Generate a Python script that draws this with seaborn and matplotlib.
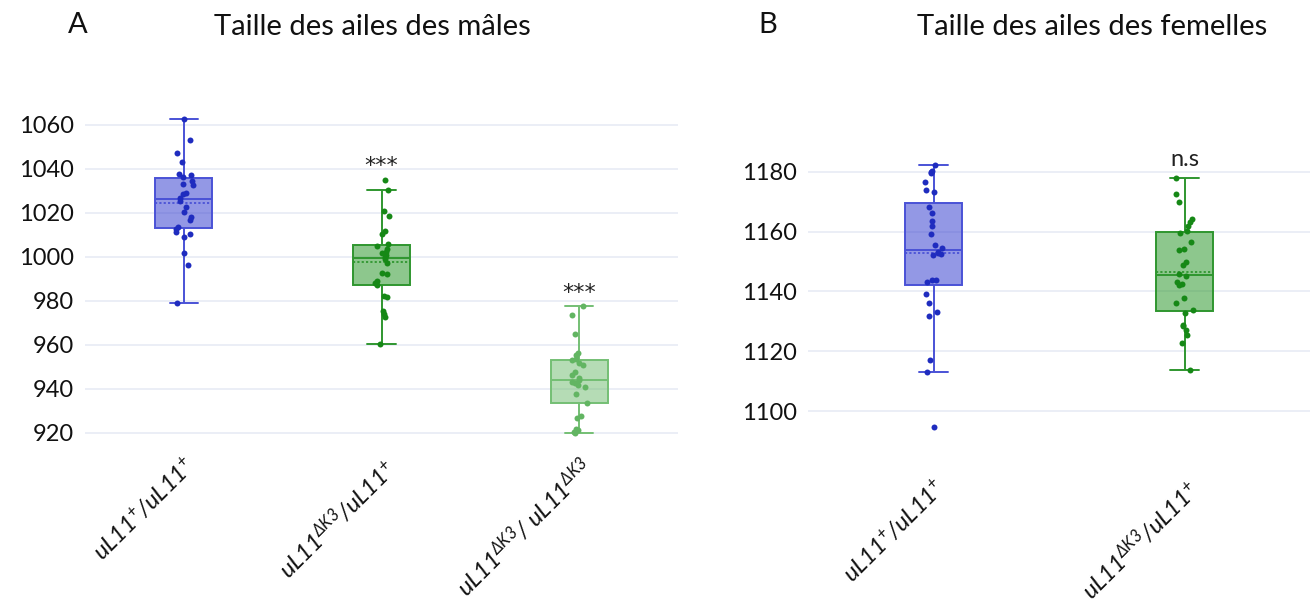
import numpy as np
import pandas as pd
import seaborn as sns
import matplotlib.pyplot as plt
from matplotlib.colors import to_rgba

# ---------------- data ----------------
male_cats = [r'$uL11^{+}/uL11^{+}$',
             r'$uL11^{\Delta K3}/uL11^{+}$',
             r'$uL11^{\Delta K3}/\ uL11^{\Delta K3}$']
female_cats = [r'$uL11^{+}/uL11^{+}$',
               r'$uL11^{\Delta K3}/uL11^{+}$']

male_wt = [1062.7, 1053.0, 1047.2, 1043.3, 1037.8, 1037.2, 1036.3, 1034.5, 1033.4,
           1032.5, 1029.0, 1028.8, 1027.0, 1025.5, 1022.5, 1020.4, 1018.0, 1017.0,
           1013.8, 1012.7, 1011.2, 1010.5, 1009.3, 1001.9, 996.5, 979.2]
male_het = [1035.2, 1030.4, 1020.7, 1018.6, 1011.7, 1010.5, 1005.7, 1004.9, 1003.7,
            1002.4, 1001.8, 1000.9, 1000.0, 999.1, 997.4, 992.8, 992.2, 989.3, 988.0,
            987.2, 982.4, 981.8, 975.5, 974.2, 972.7, 960.6]
male_hom = [977.8, 973.6, 965.0, 956.5, 955.4, 953.8, 953.2, 951.7, 950.8, 947.8,
            946.2, 945.1, 944.0, 943.0, 942.7, 941.8, 941.0, 937.7, 933.8, 927.5,
            926.8, 922.0, 921.3, 920.4, 920.0]
female_wt = [1182.2, 1180.2, 1179.9, 1179.7, 1176.6, 1173.8, 1173.1, 1168.3, 1166.2,
             1163.6, 1162.0, 1159.1, 1155.4, 1154.6, 1153.3, 1153.0, 1152.6, 1152.2,
             1144.0, 1143.7, 1143.1, 1139.2, 1136.1, 1133.3, 1131.7, 1117.0, 1113.1,
             1094.7]
female_het = [1178.0, 1172.6, 1169.9, 1164.2, 1163.2, 1161.9, 1160.2, 1159.6, 1156.7,
              1154.2, 1154.0, 1149.9, 1148.9, 1145.8, 1145.3, 1143.2, 1142.4, 1142.0,
              1137.8, 1136.1, 1133.8, 1132.9, 1128.9, 1128.4, 1127.1, 1125.4, 1122.8,
              1113.8]

male_sig = ['', '***', '***']
female_sig = ['', 'n.s']

# ---------------- style ----------------
sns.set_theme(style="white")
plt.rcParams['font.family'] = ['Lato', 'DejaVu Sans']
plt.rcParams['mathtext.fontset'] = 'custom'
plt.rcParams['mathtext.rm'] = 'Lato:italic'
plt.rcParams['mathtext.it'] = 'Lato:italic'
plt.rcParams['mathtext.default'] = 'it'

BLUE = dict(line='#4a52d6', fill='#3a44d0', pts='#1f2cbf', alpha=0.55)
GREEN = dict(line='#2f962f', fill='#2f9a2f', pts='#168816', alpha=0.55)
LGREEN = dict(line='#74bf74', fill='#6cbb6c', pts='#62b562', alpha=0.5)
GRID = '#e7ebf5'

fig = plt.figure(figsize=(13.12, 6.09), dpi=100)
W, H = 1312, 609


def px_axes(x0, y0, x1, y1):
    return fig.add_axes([x0 / W, 1 - y1 / H, (x1 - x0) / W, (y1 - y0) / H])


def draw_panel(ax, cats, groups, styles, sigs, width, jitter, sig_offset):
    rows = []
    for c, vals in zip(cats, groups):
        rows += [(c, v) for v in vals]
    df = pd.DataFrame(rows, columns=['cat', 'val'])
    for c, st in zip(cats, styles):
        sub = df[df['cat'] == c]
        n0 = len(ax.patches)
        sns.boxplot(data=sub, x='cat', y='val', order=cats, ax=ax, width=width,
                    color=st['fill'], linecolor=st['line'], linewidth=1.4,
                    showfliers=False, whis=1.5,
                    showmeans=True, meanline=True,
                    meanprops=dict(color=st['line'], linestyle=(0, (1.2, 1.2)),
                                   linewidth=1.3))
        for p in ax.patches[n0:]:
            p.set_facecolor(to_rgba(st['fill'], st['alpha']))
            p.set_edgecolor(st['line'])
        sns.stripplot(data=sub, x='cat', y='val', order=cats, ax=ax, color=st['pts'],
                      size=4.3, jitter=jitter, linewidth=0, zorder=4)
    for i, (s, vals) in enumerate(zip(sigs, groups)):
        if s:
            if s.startswith('*'):
                ax.text(i, max(vals) + sig_offset, s, ha='center', va='bottom',
                        fontsize=16, color='#222222', family='DejaVu Sans')
            else:
                ax.text(i, max(vals) + sig_offset, s, ha='center', va='bottom',
                        fontsize=17, color='#222222')
    ax.set_xlabel('')
    ax.set_ylabel('')
    for sp in ax.spines.values():
        sp.set_visible(False)
    ax.grid(axis='y', color=GRID, linewidth=1.2)
    ax.set_axisbelow(True)
    ax.tick_params(axis='y', length=0, labelsize=17, pad=8, labelcolor='#111111')
    ax.tick_params(axis='x', length=0)


# Panel A
axA = px_axes(85, 103, 678, 440)
draw_panel(axA, male_cats, [male_wt, male_het, male_hom], [BLUE, GREEN, LGREEN],
           male_sig, 0.29, 0.045, 1.5)
axA.set_ylim(916.8, 1070)
axA.set_yticks(np.arange(920, 1061, 20))
axA.set_xlim(-0.5, 2.5)
axA.set_xticks(range(len(male_cats)))
axA.set_xticklabels(male_cats, rotation=45, ha='right', rotation_mode='anchor',
                    fontsize=17, color='#111111')
axA.tick_params(axis='x', pad=10)

# Panel B
axB = px_axes(808, 120, 1310, 445)
draw_panel(axB, female_cats, [female_wt, female_het], [BLUE, GREEN],
           female_sig, 0.23, 0.035, 2.5)
axB.set_ylim(1088.7, 1197.3)
axB.set_yticks(np.arange(1100, 1181, 20))
axB.set_xlim(-0.5, 1.5)
axB.set_xticks(range(len(female_cats)))
axB.set_xticklabels(female_cats, rotation=45, ha='right', rotation_mode='anchor',
                    fontsize=17, color='#111111')
axB.tick_params(axis='x', pad=22)

# Titles
fig.text(78 / W, 1 - 25 / H, 'A', fontsize=21, ha='center', va='center', color='#111111')
fig.text(372 / W, 1 - 27 / H, 'Taille des ailes des mâles', fontsize=21,
         ha='center', va='center', color='#111111')
fig.text(768 / W, 1 - 25 / H, 'B', fontsize=21, ha='center', va='center', color='#111111')
fig.text(1092 / W, 1 - 27 / H, 'Taille des ailes des femelles', fontsize=21,
         ha='center', va='center', color='#111111')

fig.savefig('out.png', dpi=100, facecolor='white')
